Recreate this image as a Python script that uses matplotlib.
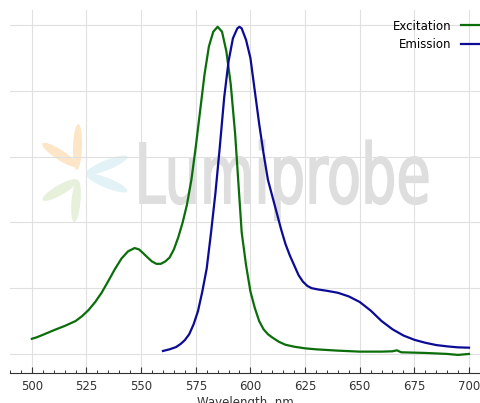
import matplotlib
matplotlib.use("Agg")
import matplotlib.pyplot as plt
from matplotlib.ticker import MultipleLocator
from matplotlib.textpath import TextPath
from matplotlib.font_manager import FontProperties
from matplotlib.patches import PathPatch, Ellipse
from matplotlib.transforms import Affine2D

# Excitation spectrum (normalised)
ex_nm = [500, 502, 505, 510, 515, 520, 523, 526, 529, 532, 535, 538, 541, 544,
         547, 549, 551, 553, 555, 557, 559, 561, 563, 565, 567, 569, 571, 573,
         575, 577, 579, 581, 583, 585, 587, 589, 591, 593, 595, 596, 598, 600,
         602, 604, 606, 608, 610, 613, 616, 620, 625, 630, 640, 650, 660, 665,
         667, 669, 680, 690, 695, 700]
ex_val = [0.046, 0.050, 0.058, 0.072, 0.085, 0.100, 0.115, 0.134, 0.158, 0.187,
          0.222, 0.258, 0.290, 0.312, 0.322, 0.318, 0.306, 0.293, 0.281, 0.274,
          0.274, 0.281, 0.293, 0.318, 0.355, 0.400, 0.455, 0.530, 0.630, 0.740,
          0.850, 0.935, 0.980, 0.995, 0.980, 0.920, 0.820, 0.670, 0.470, 0.370,
          0.270, 0.190, 0.140, 0.100, 0.075, 0.060, 0.050, 0.037, 0.028, 0.022,
          0.017, 0.014, 0.010, 0.007, 0.007, 0.008, 0.011, 0.005, 0.003, 0.000,
          -0.003, 0.000]

# Emission spectrum (normalised)
em_nm = [560, 563, 566, 568, 570, 572, 574, 576, 578, 580, 582, 584, 586, 588,
         590, 592, 594, 595, 596, 598, 600, 602, 604, 606, 608, 610, 612, 614,
         616, 618, 620, 622, 624, 626, 628, 631, 635, 640, 645, 650, 655, 660,
         665, 670, 675, 680, 685, 690, 695, 700]
em_val = [0.009, 0.014, 0.021, 0.030, 0.042, 0.060, 0.090, 0.130, 0.190, 0.260,
          0.370, 0.490, 0.630, 0.780, 0.890, 0.960, 0.990, 0.995, 0.990, 0.955,
          0.900, 0.800, 0.700, 0.610, 0.530, 0.480, 0.430, 0.380, 0.335, 0.300,
          0.270, 0.240, 0.220, 0.207, 0.200, 0.196, 0.192, 0.186, 0.175, 0.158,
          0.132, 0.100, 0.075, 0.056, 0.043, 0.034, 0.027, 0.023, 0.020, 0.019]

fig = plt.figure(figsize=(4.81, 4.03), dpi=100)
ax = fig.add_axes([10 / 481, 30 / 403, 1 - 10 / 481, 363 / 403])

# watermark text, squeezed into its box (axes fractions)
tp = TextPath((0, 0), "Lumiprobe", size=1,
              prop=FontProperties(family="DejaVu Sans", weight="normal"))
ext = tp.get_extents()
x0, x1, y0, y1 = 0.276, 0.887, 0.468, 0.634
sx = (x1 - x0) / ext.width
sy = (y1 - y0) / 0.729
wm = Affine2D().translate(-ext.x0, 0).scale(sx, sy).translate(x0, y0)
ax.add_patch(PathPatch(tp, transform=wm + ax.transAxes, fc="#dedede",
                       ec="#dedede", lw=1.2, zorder=0))

# watermark logo petals (pixel coordinates, y flipped)
px = Affine2D().scale(1, -1).translate(0, 403)
petals = [((77.5, 147), 46, 9, -88, "#fde6c8"),
          ((60, 155), 42, 10, 33, "#fde6c8"),
          ((107, 165), 44, 10, -22, "#e2f2f6"),
          ((107, 183), 44, 10, 22, "#e2f2f6"),
          ((60, 190), 40, 10, -30, "#e6f0da"),
          ((76, 201), 42, 9, 95, "#e6f0da")]
for c, w, h, a, col in petals:
    ax.add_patch(Ellipse(c, w, h, angle=a, transform=px, fc=col, ec="none",
                         zorder=0))

ax.plot(ex_nm, ex_val, color="#0b6e0b", lw=1.6, label="Excitation", zorder=3)
ax.plot(em_nm, em_val, color="#0b0b96", lw=1.6, label="Emission", zorder=3)

ax.set_xlim(490, 705.5)
ax.set_ylim(-0.058, 1.046)
ax.xaxis.set_major_locator(MultipleLocator(25))
ax.xaxis.set_minor_locator(MultipleLocator(5))
ax.set_yticks([0, 0.2, 0.4, 0.6, 0.8, 1.0])
ax.tick_params(axis="y", left=False, labelleft=False)
ax.tick_params(axis="x", which="major", direction="in", length=4, width=0.8,
               colors="#333333", labelsize=8.5, pad=5)
ax.tick_params(axis="x", which="minor", direction="in", length=2.5, width=0.7,
               colors="#333333")
ax.grid(True, color="#e0e0e0", lw=0.8)
ax.set_axisbelow(True)
for s in ["left", "right", "top"]:
    ax.spines[s].set_visible(False)
ax.spines["bottom"].set_color("#333333")
ax.set_xlabel("Wavelength, nm", fontsize=8.5, color="#333333", labelpad=2)

ax.legend(loc="upper right", frameon=False, markerfirst=False, fontsize=8.5,
          handlelength=2.2, borderaxespad=0.1, labelspacing=0.45,
          bbox_to_anchor=(1.025, 0.99))

fig.savefig("out.png", dpi=100)
